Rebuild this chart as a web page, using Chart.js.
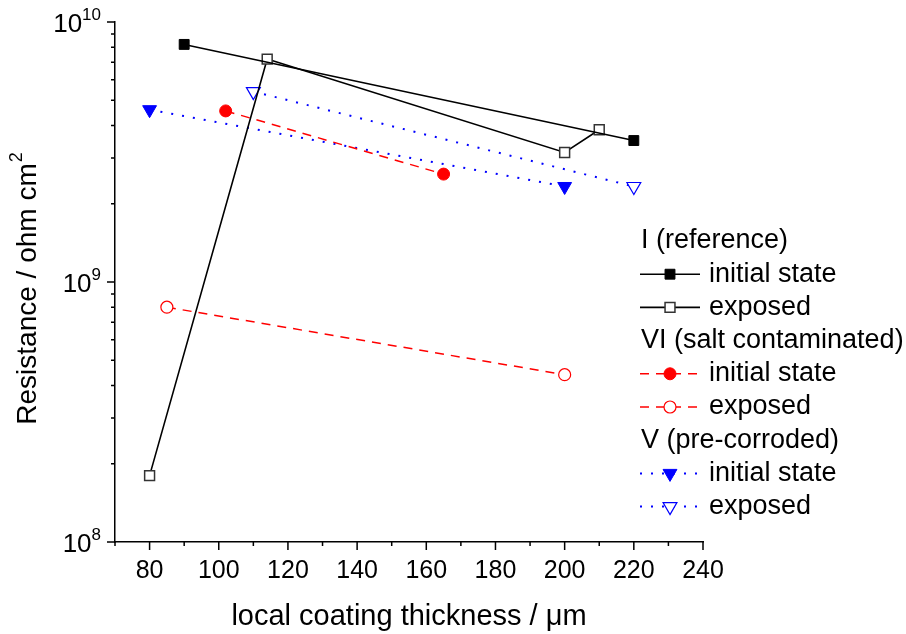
<!DOCTYPE html>
<html>
<head>
<meta charset="utf-8">
<script src="https://cdn.jsdelivr.net/npm/chart.js@4/dist/chart.umd.min.js"></script>
<style>
  html, body { margin: 0; background: #fff; }
  canvas { display: block; }
</style>
</head>
<body>
<canvas id="myChart" width="906" height="634"></canvas>
<script>
// local coating thickness (um) vs resistance (ohm cm2)
const refInitX = [90, 220]
const refInitY = [8.2e9, 3.5e9]
const refExpX = [80, 114, 200, 210]
const refExpY = [1.8e8, 7.2e9, 3.15e9, 3.85e9]

const saltInitX = [102, 165]
const saltInitY = [4.55e9, 2.6e9]
const saltExpX = [85, 200]
const saltExpY = [8.0e8, 4.4e8]

const corrInitX = [80, 200]
const corrInitY = [4.6e9, 2.33e9]
const corrExpX = [110, 220]
const corrExpY = [5.4e9, 2.33e9]

const xTicks = [80, 100, 120, 140, 160, 180, 200, 220, 240]
const xMinorTicks = [70, 90, 110, 130, 150, 170, 190, 210, 230]
const yExponents = [8, 9, 10]
const groupNames = ['I (reference)', 'VI (salt contaminated)', 'V (pre-corroded)']
const stateNames = ['initial state', 'exposed']

const FONT = '"Liberation Sans", Arial, sans-serif'

let pts = (xs, ys) => xs.map((x, i) => ({ x: x, y: ys[i] }))

let datasets = [
  { label: stateNames[0], data: pts(refInitX, refInitY),
    borderColor: '#000', borderWidth: 1.6, borderDash: [],
    pointStyle: 'rect', pointRadius: 7, pointBackgroundColor: '#000', pointBorderColor: '#000', pointBorderWidth: 1 },
  { label: stateNames[1], data: pts(refExpX, refExpY),
    borderColor: '#000', borderWidth: 1.6, borderDash: [],
    pointStyle: 'rect', pointRadius: 7, pointBackgroundColor: '#fff', pointBorderColor: '#333', pointBorderWidth: 1.5 },
  { label: stateNames[0], data: pts(saltInitX, saltInitY),
    borderColor: '#ff0000', borderWidth: 1.5, borderDash: [9, 7],
    pointStyle: 'circle', pointRadius: 6, pointBackgroundColor: '#ff0000', pointBorderColor: '#ff0000', pointBorderWidth: 1 },
  { label: stateNames[1], data: pts(saltExpX, saltExpY),
    borderColor: '#ff0000', borderWidth: 1.5, borderDash: [9, 7],
    pointStyle: 'circle', pointRadius: 6, pointBackgroundColor: '#fff', pointBorderColor: '#ff0000', pointBorderWidth: 1.2 },
  { label: stateNames[0], data: pts(corrInitX, corrInitY),
    borderColor: '#0000ff', borderWidth: 2, borderDash: [2, 9],
    pointStyle: 'triangle', pointRotation: 180, pointRadius: 8, pointBackgroundColor: '#0000ff', pointBorderColor: '#0000ff', pointBorderWidth: 1 },
  { label: stateNames[1], data: pts(corrExpX, corrExpY),
    borderColor: '#0000ff', borderWidth: 2, borderDash: [2, 9],
    pointStyle: 'triangle', pointRotation: 180, pointRadius: 8, pointBackgroundColor: '#fff', pointBorderColor: '#0000ff', pointBorderWidth: 1.2 },
]
datasets.forEach(d => { d.tension = 0; d.fill = false; d.clip = false })

function marker(ctx, ds, x, y) {
  let r = ds.pointRadius
  ctx.save()
  ctx.setLineDash([])
  ctx.fillStyle = ds.pointBackgroundColor
  ctx.strokeStyle = ds.pointBorderColor
  ctx.lineWidth = ds.pointBorderWidth
  ctx.beginPath()
  if (ds.pointStyle == 'rect') {
    let s = r * Math.SQRT1_2
    ctx.rect(x - s, y - s, 2 * s, 2 * s)
  } else if (ds.pointStyle == 'circle') {
    ctx.arc(x, y, r, 0, Math.PI * 2)
  } else {
    ctx.moveTo(x, y + r)
    ctx.lineTo(x + r * 0.866, y - r / 2)
    ctx.lineTo(x - r * 0.866, y - r / 2)
    ctx.closePath()
  }
  ctx.fill()
  ctx.stroke()
  ctx.restore()
}

const decorations = {
  id: 'decorations',
  afterDraw(chart) {
    let ctx = chart.ctx
    let xs = chart.scales.x, ys = chart.scales.y
    let area = chart.chartArea
    ctx.save()
    ctx.strokeStyle = '#000'
    ctx.fillStyle = '#000'
    ctx.lineWidth = 1.5
    ctx.setLineDash([])

    // x ticks
    ctx.beginPath()
    xTicks.forEach(v => { let p = xs.getPixelForValue(v); ctx.moveTo(p, area.bottom); ctx.lineTo(p, area.bottom + 8) })
    xMinorTicks.forEach(v => { let p = xs.getPixelForValue(v); ctx.moveTo(p, area.bottom); ctx.lineTo(p, area.bottom + 4) })
    // y ticks
    yExponents.forEach(e => {
      let p = ys.getPixelForValue(Math.pow(10, e))
      ctx.moveTo(area.left - 8, p); ctx.lineTo(area.left, p)
      if (e < yExponents[yExponents.length - 1]) {
        for (let m = 2; m < 10; m++) {
          let q = ys.getPixelForValue(m * Math.pow(10, e))
          ctx.moveTo(area.left - 4, q); ctx.lineTo(area.left, q)
        }
      }
    })
    ctx.stroke()

    // x labels
    ctx.font = '25px ' + FONT
    ctx.textAlign = 'center'
    ctx.textBaseline = 'middle'
    xTicks.forEach(v => ctx.fillText(String(v), xs.getPixelForValue(v), area.bottom + 29))

    // y labels 10^n
    ctx.textAlign = 'left'
    ctx.textBaseline = 'alphabetic'
    yExponents.forEach(e => {
      let p = ys.getPixelForValue(Math.pow(10, e))
      ctx.font = '17px ' + FONT
      let sw = ctx.measureText(String(e)).width
      ctx.font = '26px ' + FONT
      let bw = ctx.measureText('10').width
      let right = area.left - 14
      ctx.fillText('10', right - sw - bw, p + 10)
      ctx.font = '17px ' + FONT
      ctx.fillText(String(e), right - sw, p - 2)
    })

    // axis titles
    ctx.textAlign = 'center'
    ctx.textBaseline = 'middle'
    ctx.font = '29px ' + FONT
    ctx.fillText('local coating thickness / \u03bcm', (area.left + area.right) / 2, 617)

    ctx.save()
    ctx.translate(26, 289)
    ctx.rotate(-Math.PI / 2)
    ctx.textAlign = 'left'
    ctx.textBaseline = 'alphabetic'
    let yTitle = 'Resistance / ohm cm'
    ctx.font = '28px ' + FONT
    let tw = ctx.measureText(yTitle).width
    ctx.font = '18px ' + FONT
    let supw = ctx.measureText('2').width
    let x0 = -(tw + supw) / 2
    ctx.font = '28px ' + FONT
    ctx.fillText(yTitle, x0, 10)
    ctx.font = '18px ' + FONT
    ctx.fillText('2', x0 + tw + 1, -4)
    ctx.restore()

    // legend
    ctx.font = '27px ' + FONT
    ctx.textAlign = 'left'
    ctx.textBaseline = 'middle'
    let row = 0
    let rowY = () => 241 + row * 33.2
    groupNames.forEach((g, gi) => {
      ctx.fillStyle = '#000'
      ctx.fillText(g, 641, rowY())
      row++
      for (let k = 0; k < 2; k++) {
        let ds = datasets[gi * 2 + k]
        let y = rowY()
        ctx.save()
        ctx.strokeStyle = ds.borderColor
        ctx.lineWidth = ds.borderWidth
        ctx.setLineDash(ds.borderDash)
        ctx.beginPath()
        ctx.moveTo(640, y); ctx.lineTo(700, y)
        ctx.stroke()
        ctx.restore()
        marker(ctx, ds, 670, y)
        ctx.fillStyle = '#000'
        ctx.fillText(ds.label, 709, y)
        row++
      }
    })
    ctx.restore()
  }
}

let chart = new Chart(document.getElementById('myChart').getContext('2d'), {
  type: 'line',
  data: { datasets: datasets },
  options: {
    responsive: false,
    animation: false,
    layout: { padding: { left: 115, right: 203, top: 22, bottom: 92 } },
    plugins: { legend: { display: false }, tooltip: { enabled: false } },
    scales: {
      x: {
        type: 'linear', min: 70, max: 240,
        grid: { display: false, drawTicks: false },
        border: { display: true, color: '#000', width: 1.5 },
        ticks: { display: false }
      },
      y: {
        type: 'logarithmic', min: 1e8, max: 1e10,
        grid: { display: false, drawTicks: false },
        border: { display: true, color: '#000', width: 1.5 },
        ticks: { display: false }
      }
    }
  },
  plugins: [decorations]
});
</script>
</body>
</html>
